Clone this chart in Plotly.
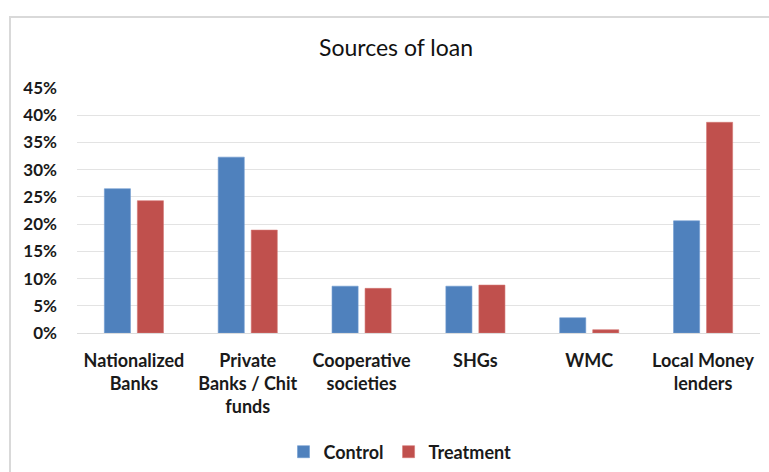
import plotly.graph_objects as go

# Loan sources and the share of households using each one
categories = [
    "Nationalized<br>Banks",
    "Private<br>Banks / Chit<br>funds",
    "Cooperative<br>societies",
    "SHGs",
    "WMC",
    "Local Money<br>lenders",
]
control = [0.265, 0.323, 0.086, 0.086, 0.028, 0.206]
treatment = [0.243, 0.189, 0.082, 0.088, 0.006, 0.387]
y_ticks = [0, 0.05, 0.10, 0.15, 0.20, 0.25, 0.30, 0.35, 0.40, 0.45]

W, H = 769, 472
L, R, T, B = 77, 9, 88, 139
pw, ph = W - L - R, H - T - B


def px_x(x):
    return (x - L) / pw


def px_y(y):
    return (H - B - y) / ph


fig = go.Figure()
fig.add_trace(go.Bar(name="Control", x=categories, y=control,
                     marker=dict(color="#4F81BD", line=dict(color="#6f9ad0", width=0.6))))
fig.add_trace(go.Bar(name="Treatment", x=categories, y=treatment,
                     marker=dict(color="#C0504D", line=dict(color="#d47572", width=0.6))))

fig.update_layout(
    width=W, height=H,
    margin=dict(l=L, r=R, t=T, b=B, autoexpand=False),
    paper_bgcolor="white", plot_bgcolor="white",
    barmode="group", bargap=0.42, bargroupgap=0.21,
    font=dict(family="Lato", color="#1a1a1a"),
    title=dict(text="Sources of loan", x=px_x(396), xref="paper", xanchor="center",
               y=1 - 48 / H, yref="container", yanchor="middle",
               font=dict(family="Lato", size=23, color="#111111")),
    legend=dict(orientation="h", x=px_x(400), xanchor="center", y=px_y(452), yanchor="middle",
                font=dict(family="Lato", size=18, color="#1a1a1a", weight="bold"),
                itemwidth=30, traceorder="normal"),
    shapes=[dict(type="rect", xref="paper", yref="paper",
                 x0=px_x(10), y0=px_y(17), x1=px_x(800), y1=px_y(500),
                 line=dict(color="#d9d9d9", width=2), layer="below")],
)
fig.update_yaxes(range=[0, 0.45], tickvals=y_ticks, tickformat=".0%", automargin=False,
                 showgrid=True, gridcolor="#e3e3e3", gridwidth=1,
                 zeroline=False, showline=False, ticks="", ticklabelstandoff=19,
                 tickfont=dict(family="Lato", size=17, color="#1a1a1a", weight="bold"))
fig.update_xaxes(showline=True, linecolor="#dcdcdc", linewidth=1, ticks="", automargin=False,
                 tickfont=dict(family="Lato", size=18, color="#1a1a1a", weight="bold"),
                 ticklabelstandoff=11)

fig.write_html("out.html")
